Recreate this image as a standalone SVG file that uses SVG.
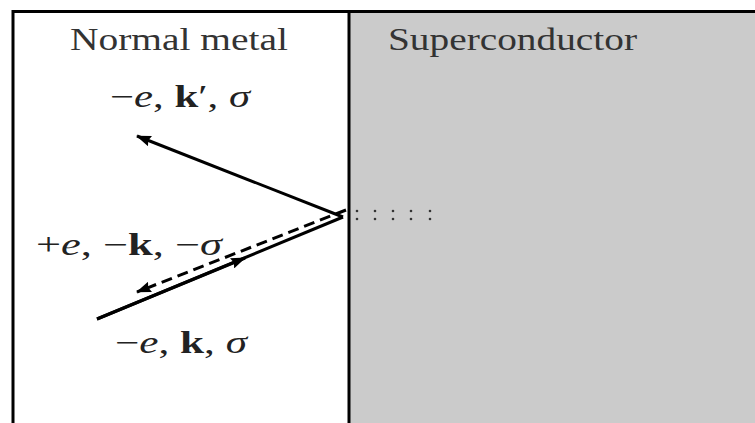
<svg xmlns="http://www.w3.org/2000/svg" width="755" height="423" viewBox="0 0 755 423">
<style>
.lbl{font-family:"Liberation Serif","DejaVu Serif",serif;font-size:31px;fill:#333}
.math{font-family:"Liberation Serif","DejaVu Serif",serif;font-size:31px;fill:#222}
.it{font-style:italic}
.bf{font-weight:bold}
.ray{stroke:#000;stroke-width:3;fill:none}
.dot{fill:#333}
</style>
<defs>
<marker id="ah" viewBox="0 0 15 11" refX="14" refY="5.5" markerWidth="15" markerHeight="11" markerUnits="userSpaceOnUse" orient="auto">
<path d="M0,0 L15,5.5 L0,11 L2,5.5 Z" fill="#000"/>
</marker>
</defs>
<rect x="0" y="0" width="755" height="423" fill="#fff"/>
<g id="superconductor">
<rect x="349" y="11" width="406" height="412" fill="#cbcbcb"/>
<text class="lbl" x="388" y="50" textLength="249" lengthAdjust="spacingAndGlyphs">Superconductor</text>
</g>
<g id="normal-metal">
<text class="lbl" x="70" y="50" textLength="218" lengthAdjust="spacingAndGlyphs">Normal metal</text>
</g>
<g id="frame">
<line x1="13" y1="11.5" x2="755" y2="11.5" stroke="#000" stroke-width="3"/>
<line x1="13" y1="10" x2="13" y2="423" stroke="#000" stroke-width="3"/>
<line x1="349" y1="10" x2="349" y2="423" stroke="#000" stroke-width="3"/>
</g>
<g id="connectors">
<line class="ray" x1="343" y1="217" x2="137" y2="136" marker-end="url(#ah)"/>
<line class="ray" x1="97" y1="319" x2="343" y2="217"/>
<line class="ray" x1="97" y1="319" x2="245" y2="258" marker-end="url(#ah)"/>
<line class="ray" x1="346" y1="210" x2="137" y2="292" stroke-dasharray="11,6" marker-end="url(#ah)"/>
</g>
<g id="dots">
<circle class="dot" cx="357" cy="211" r="1.3"/><circle class="dot" cx="357" cy="219" r="1.3"/>
<circle class="dot" cx="375" cy="211" r="1.3"/><circle class="dot" cx="375" cy="219" r="1.3"/>
<circle class="dot" cx="393" cy="211" r="1.3"/><circle class="dot" cx="393" cy="219" r="1.3"/>
<circle class="dot" cx="411" cy="211" r="1.3"/><circle class="dot" cx="411" cy="219" r="1.3"/>
<circle class="dot" cx="430" cy="211" r="1.3"/><circle class="dot" cx="430" cy="219" r="1.3"/>
</g>
<g id="label-reflected">
<text class="math" x="110" y="107" textLength="140" lengthAdjust="spacingAndGlyphs">−<tspan class="it">e</tspan>, <tspan class="bf">k</tspan>′, <tspan class="it">σ</tspan></text>
</g>
<g id="label-hole">
<text class="math" x="36" y="255" textLength="186" lengthAdjust="spacingAndGlyphs">+<tspan class="it">e</tspan>, −<tspan class="bf">k</tspan>, −<tspan class="it">σ</tspan></text>
</g>
<g id="label-incident">
<text class="math" x="115" y="353" textLength="132" lengthAdjust="spacingAndGlyphs">−<tspan class="it">e</tspan>, <tspan class="bf">k</tspan>, <tspan class="it">σ</tspan></text>
</g>
</svg>
